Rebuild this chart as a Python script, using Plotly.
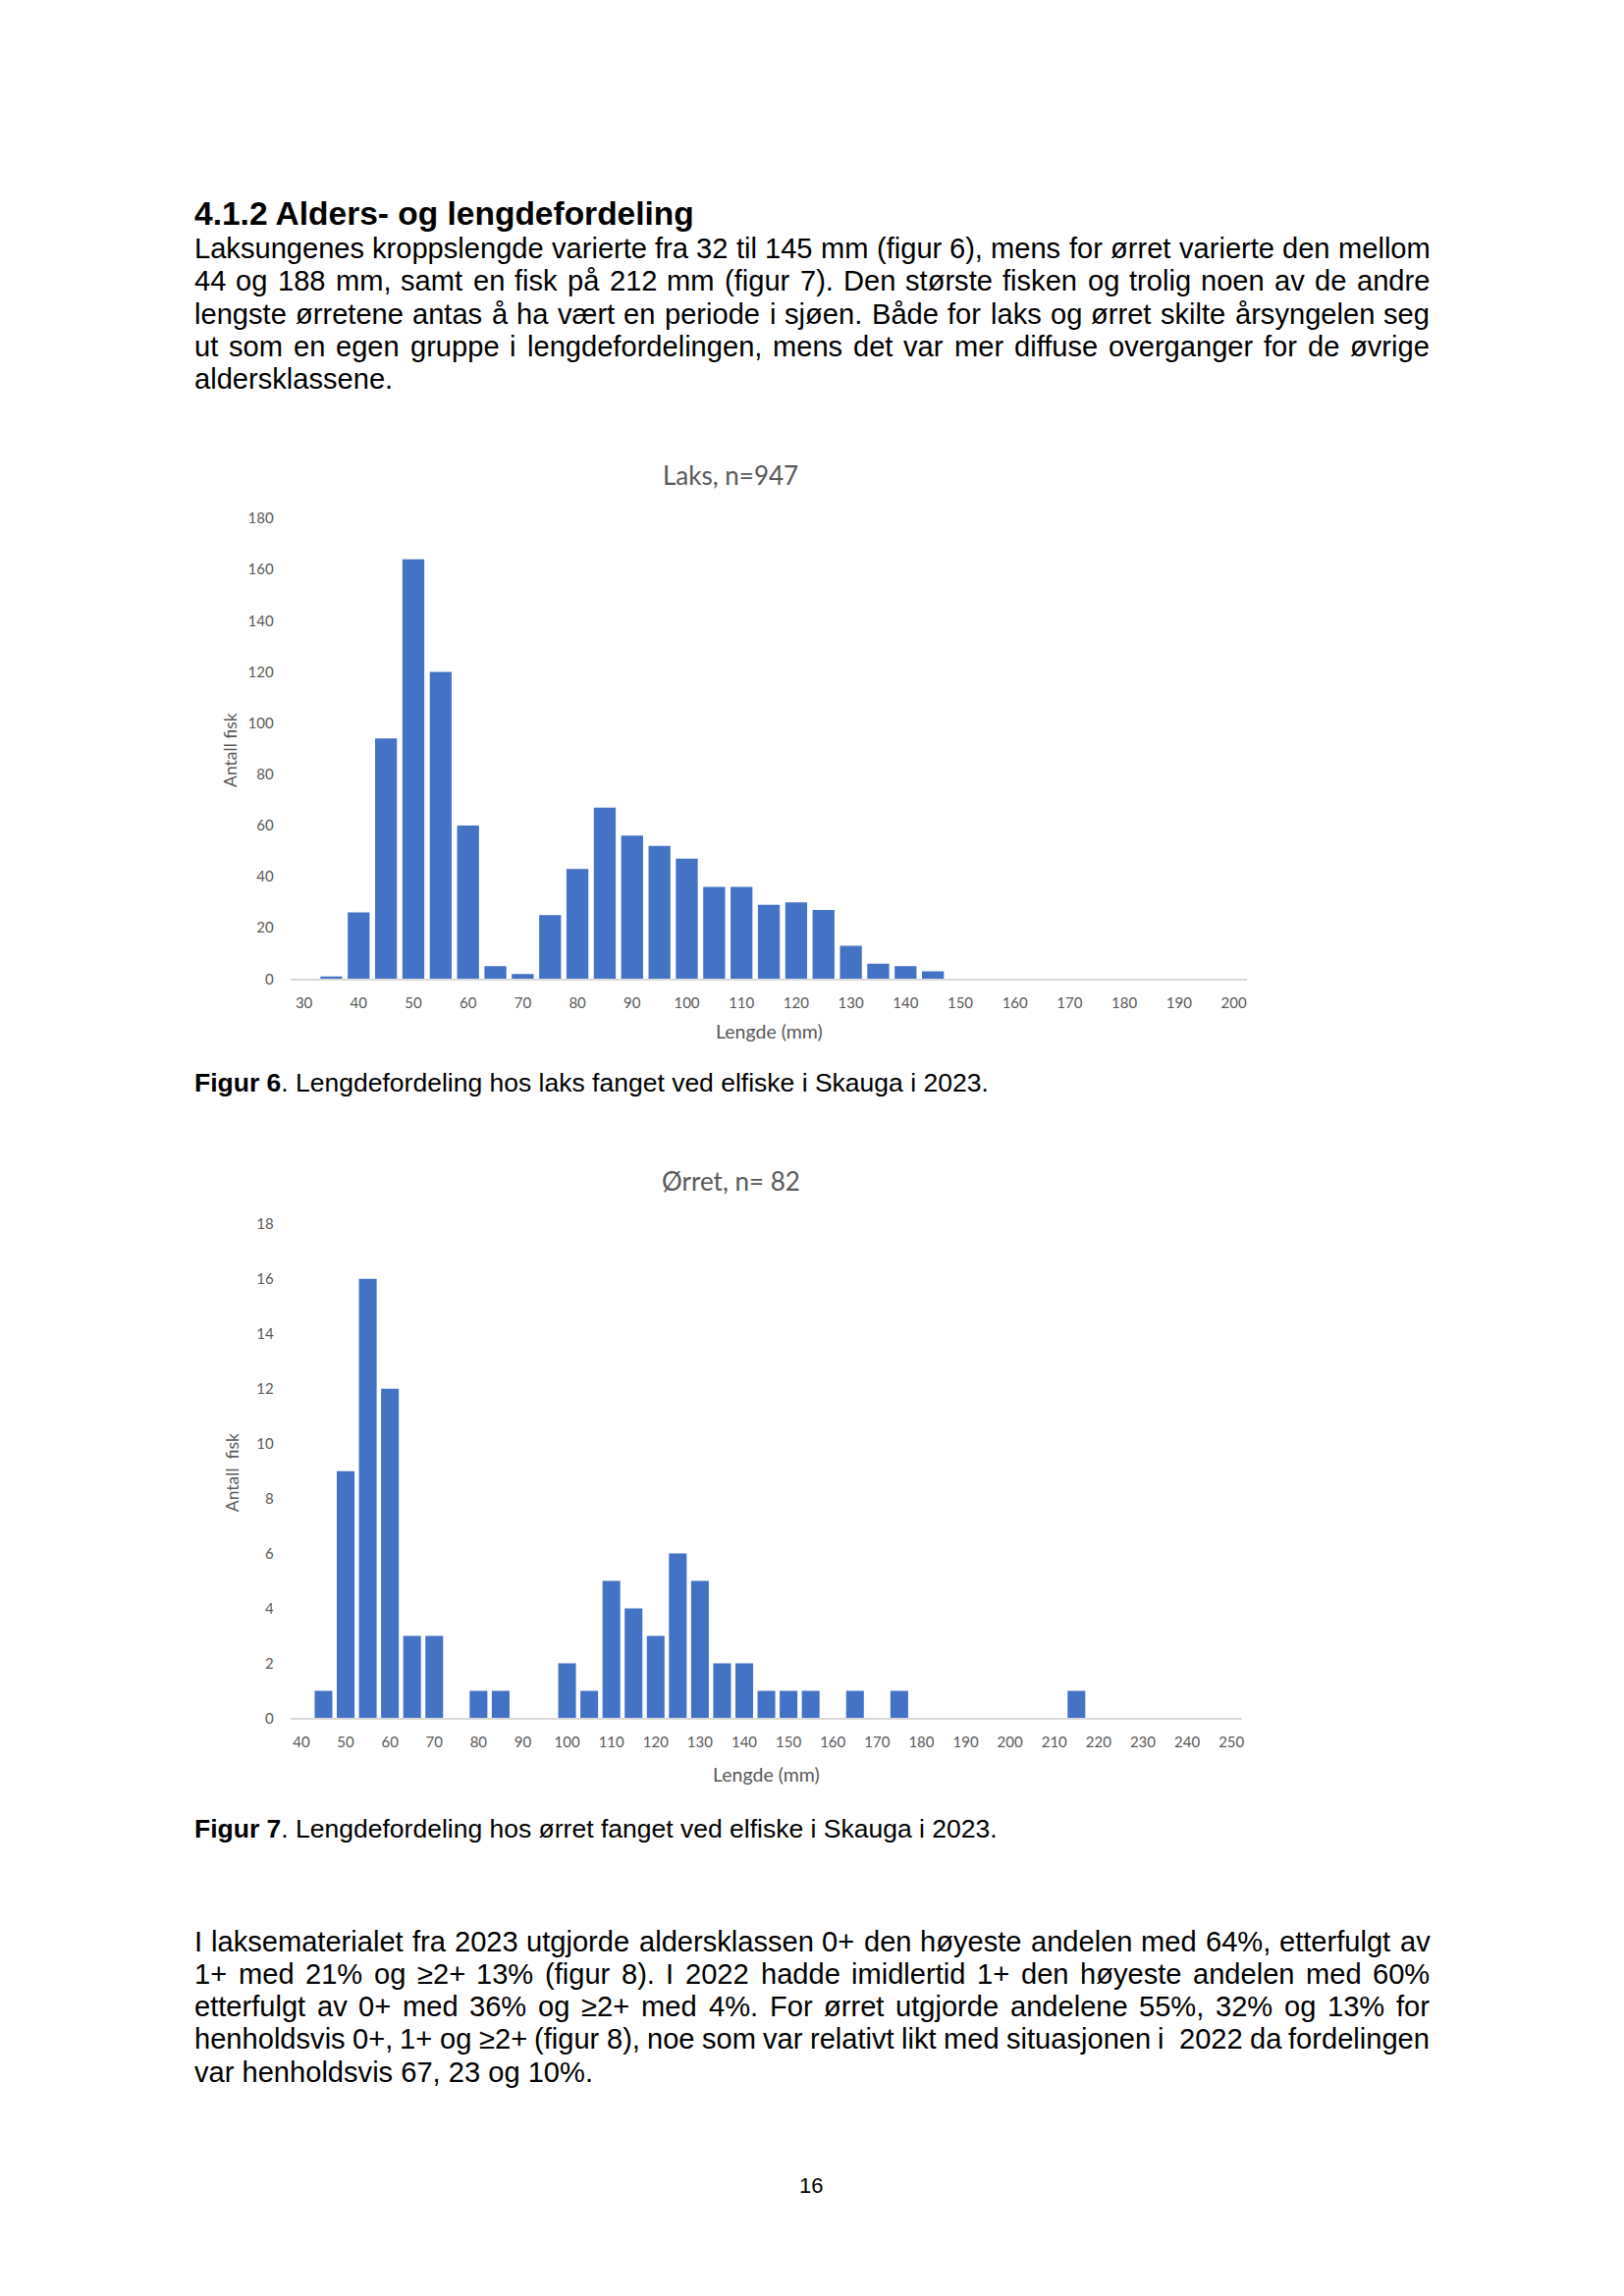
import plotly.graph_objects as go

# ---------------- data ----------------
laks_lengths = [30, 35, 40, 45, 50, 55, 60, 65, 70, 75, 80, 85, 90, 95, 100, 105, 110, 115,
                120, 125, 130, 135, 140, 145, 150, 155, 160, 165, 170, 175, 180, 185, 190, 195, 200]
laks_counts = [0, 1, 26, 94, 164, 120, 60, 5, 2, 25, 43, 67, 56, 52, 47, 36, 36, 29,
               30, 27, 13, 6, 5, 3, 0, 0, 0, 0, 0, 0, 0, 0, 0, 0, 0]
laks_xticks = [30, 40, 50, 60, 70, 80, 90, 100, 110, 120, 130, 140, 150, 160, 170, 180, 190, 200]
laks_yticks = [0, 20, 40, 60, 80, 100, 120, 140, 160, 180]

orret_lengths = [40, 45, 50, 55, 60, 65, 70, 75, 80, 85, 90, 95, 100, 105, 110, 115, 120, 125,
                 130, 135, 140, 145, 150, 155, 160, 165, 170, 175, 180, 185, 190, 195, 200, 205,
                 210, 215, 220, 225, 230, 235, 240, 245, 250]
orret_counts = [0, 1, 9, 16, 12, 3, 3, 0, 1, 1, 0, 0, 2, 1, 5, 4, 3, 6,
                5, 2, 2, 1, 1, 1, 0, 1, 0, 1, 0, 0, 0, 0, 0, 0,
                0, 1, 0, 0, 0, 0, 0, 0, 0]
orret_xticks = [40, 50, 60, 70, 80, 90, 100, 110, 120, 130, 140, 150, 160, 170, 180, 190, 200,
                210, 220, 230, 240, 250]
orret_yticks = [0, 2, 4, 6, 8, 10, 12, 14, 16, 18]

heading = "4.1.2 Alders- og lengdefordeling"
para1 = [
    "Laksungenes kroppslengde varierte fra 32 til 145 mm (figur 6), mens for ørret varierte den mellom",
    "44 og 188 mm, samt en fisk på 212 mm (figur 7). Den største fisken og trolig noen av de andre",
    "lengste ørretene antas å ha vært en periode i sjøen. Både for laks og ørret skilte årsyngelen seg",
    "ut som en egen gruppe i lengdefordelingen, mens det var mer diffuse overganger for de øvrige",
    "aldersklassene.",
]
para2 = [
    "I laksematerialet fra 2023 utgjorde aldersklassen 0+ den høyeste andelen med 64%, etterfulgt av",
    "1+ med 21% og ≥2+ 13% (figur 8). I 2022 hadde imidlertid 1+ den høyeste andelen med 60%",
    "etterfulgt av 0+ med 36% og ≥2+ med 4%. For ørret utgjorde andelene 55%, 32% og 13% for",
    "henholdsvis 0+, 1+ og ≥2+ (figur 8), noe som var relativt likt med situasjonen i  2022 da fordelingen",
    "var henholdsvis 67, 23 og 10%.",
]
caption6 = ("Figur 6", ". Lengdefordeling hos laks fanget ved elfiske i Skauga i 2023.")
caption7 = ("Figur 7", ". Lengdefordeling hos ørret fanget ved elfiske i Skauga i 2023.")
page_number = "16"

# ---------------- page geometry ----------------
W, H = 1654, 2339
OFF = 8                      # default body margin of the html page
FW, FH = W - 2 * OFF, H - 2 * OFF
BLUE = "#4472C4"
GREY = "#595959"
TXT_FONT = "Liberation Sans, Arial, sans-serif"
CH_FONT = "Lato, Open Sans, sans-serif"

def px(x):
    return (x - OFF) / FW

def py(y):
    return 1 - (y - OFF) / FH

# Arial / Liberation Sans advance widths (1/1000 em)
AW = {' ': 278, '%': 889, '(': 333, ')': 333, '+': 584, ',': 278, '-': 333, '.': 278,
      '=': 584, '≥': 549, 'å': 556, 'æ': 889, 'ø': 611, 'Ø': 778}
for c in '0123456789':
    AW[c] = 556
AW.update(dict(zip('ABCDEFGHIJKLMNOPQRSTUVWXYZ',
                   [667, 667, 722, 722, 667, 611, 778, 722, 278, 500, 667, 556, 833, 722, 778,
                    667, 778, 722, 667, 611, 722, 667, 944, 667, 667, 611])))
AW.update(dict(zip('abcdefghijklmnopqrstuvwxyz',
                   [556, 556, 500, 556, 556, 278, 556, 556, 222, 222, 500, 222, 833, 556, 556,
                    556, 556, 333, 500, 278, 556, 500, 722, 500, 500, 500])))

def text_width(s, size):
    return sum(AW.get(c, 556) for c in s) * size / 1000.0

BODY = 29.1
LEFT, RIGHT = 197, 1457
LINE = 33.5

annotations = []

def add_text(x, y, text, size, color="black", family=TXT_FONT, xanchor="left", angle=0):
    annotations.append(dict(x=px(x), y=py(y), xref="paper", yref="paper", text=text,
                            showarrow=False, xanchor=xanchor, yanchor="middle",
                            textangle=angle, borderpad=0,
                            font=dict(family=family, size=size, color=color)))

def add_paragraph(lines, y0):
    for i, line in enumerate(lines):
        y = y0 + i * LINE
        if i == len(lines) - 1:
            add_text(LEFT, y, line, BODY)
            continue
        words = line.split(' ')
        total = sum(text_width(w, BODY) for w in words)
        gap = (RIGHT - LEFT - total) / (len(words) - 1)
        x = LEFT
        for w in words:
            if w:
                add_text(x, y, w, BODY)
            x += text_width(w, BODY) + gap

# heading + paragraphs
add_text(LEFT, 209, "<b>" + heading + "</b>", 33.5)
add_paragraph(para1, 245)
add_paragraph(para2, 1983)
add_text(LEFT, 1101, "<b>" + caption6[0] + "</b>" + caption6[1], 26.5)
add_text(LEFT, 1867.5, "<b>" + caption7[0] + "</b>" + caption7[1], 26.5)
add_text(827, 2234, page_number, 22, xanchor="center")

# chart titles
add_text(745, 478, "Laks, n=947", 26, GREY, CH_FONT, "center")
add_text(784, 1049, "Lengde (mm)", 19.5, GREY, CH_FONT, "center")
add_text(234, 760, "Antall fisk", 17.5, GREY, CH_FONT, "center", -90)
add_text(745, 1202, "Ørret, n= 82", 26, GREY, CH_FONT, "center")
add_text(781, 1811, "Lengde (mm)", 19.5, GREY, CH_FONT, "center")
add_text(237, 1502, "Antall\u00a0 fisk", 17.5, GREY, CH_FONT, "center", -90)

fig = go.Figure()
fig.add_trace(go.Bar(x=laks_lengths, y=laks_counts, marker=dict(color=BLUE, line=dict(width=0)),
                     xaxis="x", yaxis="y", showlegend=False))
fig.add_trace(go.Bar(x=orret_lengths, y=orret_counts, marker=dict(color=BLUE, line=dict(width=0)),
                     xaxis="x2", yaxis="y2", showlegend=False))

tickfont = dict(family=CH_FONT, size=15, color=GREY)

def xaxis_cfg(lengths, ticks, anchor, x0, x1):
    step = lengths[1] - lengths[0]
    return dict(domain=[px(x0), px(x1)], range=[lengths[0] - step / 2, lengths[-1] + step / 2],
                tickmode="array", tickvals=ticks, ticktext=[str(t) for t in ticks],
                showgrid=False, zeroline=False, showline=True, linecolor="#D9D9D9", linewidth=1.5,
                ticks="", tickfont=tickfont, ticklabelstandoff=10, anchor=anchor, fixedrange=True)

def yaxis_cfg(ticks, top, bottom, anchor):
    return dict(domain=[py(bottom), py(top)], range=[ticks[0], ticks[-1]],
                tickmode="array", tickvals=ticks, ticktext=[str(t) for t in ticks],
                showgrid=False, zeroline=False, showline=False, ticks="",
                tickfont=tickfont, ticklabelstandoff=16, anchor=anchor, fixedrange=True)

fig.update_layout(
    width=FW, height=FH, margin=dict(l=0, r=0, t=0, b=0),
    paper_bgcolor="white", plot_bgcolor="white",
    bargap=0.2, showlegend=False,
    xaxis=xaxis_cfg(laks_lengths, laks_xticks, "y", 296, 1272),
    yaxis=yaxis_cfg(laks_yticks, 522, 995, "x"),
    xaxis2=xaxis_cfg(orret_lengths, orret_xticks, "y2", 296, 1267),
    yaxis2=yaxis_cfg(orret_yticks, 1246.5, 1754, "x2"),
    annotations=annotations,
)

fig.write_html("out.html")
